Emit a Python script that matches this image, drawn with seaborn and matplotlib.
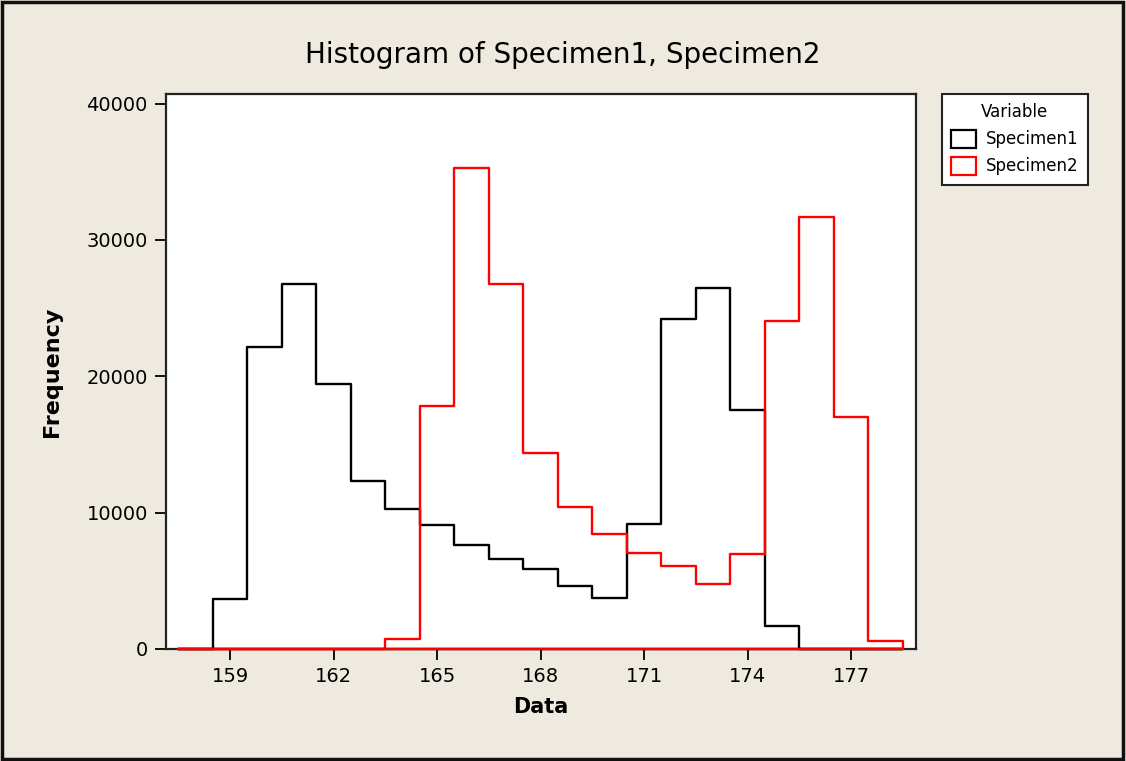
import numpy as np
import pandas as pd
import matplotlib
matplotlib.use('Agg')
import matplotlib.pyplot as plt
from matplotlib.patches import Patch, Rectangle
import seaborn as sns

# bin centres (bin width 1) and frequencies
bin_centers = list(range(158, 179))
specimen1 = [0, 3700, 22150, 26750, 19400, 12350, 10300, 9070, 7660, 6590,
             5900, 4600, 3750, 9200, 24200, 26450, 17550, 1700, 0, 0, 0]
specimen2 = [0, 0, 0, 0, 0, 0, 720, 17800, 35250, 26750,
             14400, 10400, 8400, 7050, 6100, 4750, 6950, 24050, 31650, 17000, 600]
series_names = ['Specimen1', 'Specimen2']
series_colors = ['#000000', '#FF0000']
x_ticks = [159, 162, 165, 168, 171, 174, 177]
y_ticks = [0, 10000, 20000, 30000, 40000]

df = pd.DataFrame({
    'Data': bin_centers * 2,
    'Frequency': specimen1 + specimen2,
    'Variable': ['Specimen1'] * len(bin_centers) + ['Specimen2'] * len(bin_centers),
})

sns.set_style('ticks')
plt.rcParams['font.family'] = ['DejaVu Sans']
plt.rcParams['text.color'] = 'black'
plt.rcParams['axes.labelcolor'] = 'black'

bg = '#EEEAE0'
fig = plt.figure(figsize=(11.26, 7.61), dpi=100, facecolor=bg)
ax = fig.add_axes([0.1474, 0.1472, 0.6661, 0.7293])
ax.set_facecolor('white')

# outlined step polygons (baseline + end drops), black first, red on top
for name, color in zip(series_names, series_colors):
    sns.histplot(data=df[df['Variable'] == name], x='Data', weights='Frequency',
                 binwidth=1, binrange=(157.5, 178.5), element='step', fill=True,
                 facecolor='none', color=color, linewidth=1.7, zorder=3,
                 clip_on=False, ax=ax)

ax.set_xlim(157.14, 178.88)
ax.set_ylim(0, 40700)
ax.set_xticks(x_ticks)
ax.set_yticks(y_ticks)
ax.tick_params(direction='out', length=8, width=1.3, labelsize=14, pad=5,
               colors='black')
for s in ax.spines.values():
    s.set_visible(True)
    s.set_linewidth(1.6)
    s.set_color('#222222')

ax.set_xlabel('Data', fontsize=15, fontweight='bold', labelpad=8)
ax.set_ylabel('Frequency', fontsize=16, fontweight='bold', labelpad=18)
fig.text(0.5, 1 - 55 / 761, 'Histogram of Specimen1, Specimen2',
         ha='center', va='center', fontsize=20)

handles = [Patch(facecolor='white', edgecolor=c, linewidth=1.6, label=n)
           for n, c in zip(series_names, series_colors)]
leg = fig.legend(handles=handles, title='Variable', loc='upper left',
                 bbox_to_anchor=(0.8363, 0.8761), borderaxespad=0,
                 fontsize=12, title_fontsize=12,
                 fancybox=False, frameon=True, edgecolor='#222222', framealpha=1,
                 handlelength=1.5, handleheight=1.3, handletextpad=0.6,
                 borderpad=0.55, labelspacing=0.5)
leg.get_frame().set_linewidth(1.5)

fig.patches.append(Rectangle((0.002, 0.003), 0.995, 0.994, transform=fig.transFigure,
                             fill=False, edgecolor='#111111', linewidth=2.5))

fig.savefig('out.png', dpi=100, facecolor=bg)
